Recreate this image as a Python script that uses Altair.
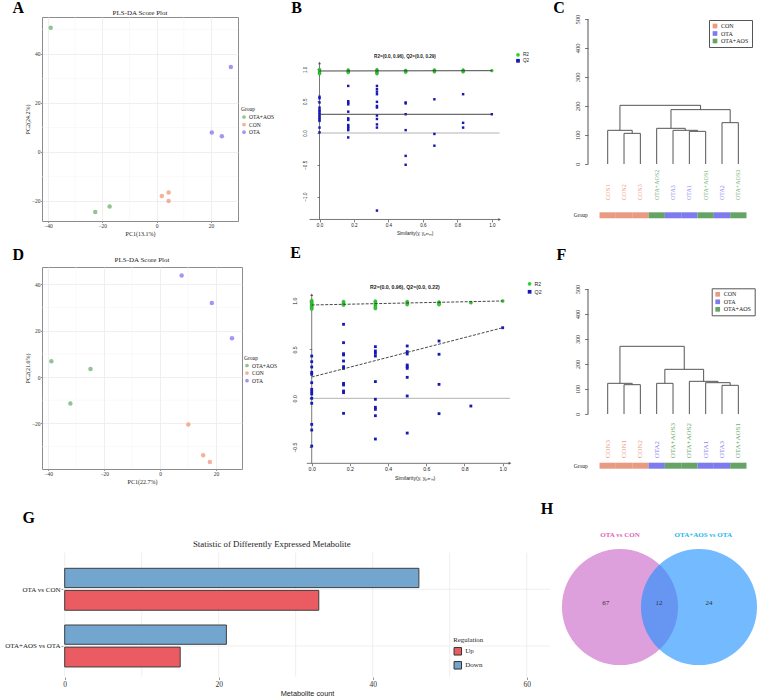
import altair as alt
import pandas as pd

SERIF = "Liberation Serif"
SANS = "Liberation Sans"

# ------------------------------------------------------------------ data
GROUPS = ["OTA+AOS", "CON", "OTA"]
SCORE_COLORS = ["#86BC86", "#F3A78F", "#988AF3"]

# A: PLS-DA score plot
a_group = ["OTA+AOS", "OTA+AOS", "OTA+AOS", "CON", "CON", "CON", "OTA", "OTA", "OTA"]
a_pc1 = [-39.0, -22.6, -17.3, 1.9, 4.4, 4.4, 20.3, 24.0, 27.3]
a_pc2 = [50.7, -24.5, -22.3, -18.0, -16.6, -20.0, 7.9, 6.4, 34.7]

# D: PLS-DA score plot
d_group = ["OTA+AOS", "OTA+AOS", "OTA+AOS", "CON", "CON", "CON", "OTA", "OTA", "OTA"]
d_pc1 = [-38.9, -24.9, -32.1, 10.1, 15.4, 17.8, 7.7, 18.5, 25.7]
d_pc2 = [6.8, 3.5, -11.4, -20.5, -33.8, -36.7, 43.8, 32.0, 16.7]

# B: permutation test (similarity in sixths)
b_q2_sim = [0] * 14 + [1] * 12 + [2] * 12 + [3] * 6 + [4] * 3 + [5] * 3 + [6]
b_q2 = [0.57, 0.545, 0.48, 0.40, 0.37, 0.345, 0.32, 0.295, 0.265, 0.24, 0.215, 0.19, 0.085, 0.01,
        0.74, 0.50, 0.475, 0.45, 0.335, 0.23, 0.205, 0.125, 0.10, 0.075, 0.045, -0.07,
        0.74, 0.69, 0.65, 0.61, 0.49, 0.425, 0.40, 0.275, 0.22, 0.135, 0.085, -1.22,
        0.48, 0.465, 0.295, 0.045, -0.36, -0.50,
        0.53, -0.015, -0.20,
        0.61, 0.16, 0.085,
        0.295]
b_r2_sim = [0] * 5 + [1] * 4 + [2] * 5 + [3] * 3 + [4] * 3 + [5] * 3 + [6]
b_r2 = [1.0, 0.98, 0.96, 0.94, 0.93,
        0.99, 0.975, 0.96, 0.95,
        0.995, 0.98, 0.96, 0.945, 0.93,
        0.985, 0.97, 0.955,
        0.99, 0.975, 0.96,
        0.99, 0.975, 0.96,
        0.98]
b_lines = {"R2": (0.975, 0.98), "Q2": (0.294, 0.294)}   # (intercept, value at 1.0)

# E: permutation test
e_q2_sim = [0] * 14 + [1] * 12 + [2] * 10 + [3] * 9 + [4] * 4 + [5] + [6]
e_q2 = [0.433, 0.375, 0.321, 0.266, 0.246, 0.160, 0.092, 0.068, 0.044, 0.0, -0.051, -0.267, -0.325, -0.489,
        0.758, 0.570, 0.457, 0.444, 0.382, 0.324, 0.307, 0.153, 0.136, 0.075, 0.058, -0.154,
        0.529, 0.485, 0.461, 0.433, 0.171, -0.010, -0.092, -0.113, -0.178, -0.417,
        0.536, 0.478, 0.454, 0.341, 0.324, 0.307, 0.215, 0.024, -0.356,
        0.587, 0.451, 0.143, -0.157,
        -0.079,
        0.723]
e_r2_sim = [0] * 7 + [1] * 3 + [2] * 5 + [3] * 3 + [4] * 3 + [5] + [6]
e_r2 = [1.0, 0.985, 0.97, 0.955, 0.94, 0.925, 0.915,
        0.99, 0.97, 0.955,
        0.995, 0.975, 0.955, 0.935, 0.92,
        0.99, 0.975, 0.96,
        0.985, 0.97, 0.96,
        0.98,
        0.997]
e_lines = {"R2": (0.956, 0.997), "Q2": (0.218, 0.723)}

# C / F: hierarchical clustering (leaf order, merges: child, child, height)
c_leaves = ["CON1", "CON2", "CON3", "OTA+AOS2", "OTA3", "OTA1", "OTA+AOS1", "OTA2", "OTA+AOS3"]
c_merges = [("CON2", "CON3", 105.7), ("CON1", 1, 116.1), ("OTA1", "OTA+AOS1", 112.6),
            ("OTA3", 3, 116.1), ("OTA+AOS2", 4, 123.0), ("OTA2", "OTA+AOS3", 142.5),
            (5, 6, 187.4), (2, 7, 202.3)]
f_leaves = ["CON3", "CON1", "CON2", "OTA2", "OTA+AOS3", "OTA+AOS2", "OTA1", "OTA3", "OTA+AOS1"]
f_merges = [("CON1", "CON2", 117.3), ("CON3", 1, 122.7), ("OTA2", "OTA+AOS3", 122.7),
            ("OTA3", "OTA+AOS1", 114.7), ("OTA1", 4, 125.3), ("OTA+AOS2", 5, 130.7),
            (3, 6, 178.7), (2, 7, 270.7)]
DENDRO_GROUPS = ["CON", "OTA", "OTA+AOS"]
DENDRO_BAR = ["#E99A83", "#7D7BEE", "#66A466"]
DENDRO_TEXT = {"CON": "#F09A84", "OTA": "#8A86F0", "OTA+AOS": "#6DAA6D"}

# G: differential metabolites
comparisons = ["OTA vs CON", "OTA+AOS vs OTA"]
up_counts = [33, 15]
down_counts = [46, 21]
REG_DOMAIN = ["Up", "Down"]
REG_COLORS = ["#EA5C61", "#72A6CF"]
g_ticks = [0, 20, 40, 60]
g_grid = [0, 10, 20, 30, 40, 50, 60]

# H: Venn
venn_sets = ["OTA vs CON", "OTA+AOS vs OTA"]
venn_counts = [67, 12, 24]   # only left, shared, only right


# ------------------------------------------------------------------ helpers
def letter(ch, dx, dy):
    return alt.Chart(pd.DataFrame({"t": [ch]})).mark_text(
        font=SERIF, fontSize=16, fontWeight="bold", color="#000",
        align="center", baseline="middle").encode(
        x=alt.value(dx), y=alt.value(dy), text="t:N")


def note(txt, dx, dy, **kw):
    return alt.Chart(pd.DataFrame({"t": [txt]})).mark_text(
        align="center", baseline="middle", **kw).encode(
        x=alt.value(dx), y=alt.value(dy), text="t:N")


def score_panel(pc1, pc2, grp, L):
    df = pd.DataFrame({"PC1": pc1, "PC2": pc2, "Group": grp})
    xs = alt.Scale(domain=L["xdom"], nice=False, zero=False)
    ys = alt.Scale(domain=L["ydom"], nice=False, zero=False)
    common = dict(grid=True, gridColor="#EBEBEB", gridWidth=0.8, domain=False,
                  tickSize=1.5, tickColor="#444", tickWidth=0.6,
                  labelFont=SERIF, labelFontSize=5.5, labelColor="#333", labelFlush=False,
                  titleFont=SERIF, titleFontSize=6, titleFontWeight="normal", titleColor="#222")
    xaxis = alt.Axis(values=L["xmaj"], labelPadding=1, title=L["xtitle"], titlePadding=1, **common)
    yaxis = alt.Axis(values=L["ymaj"], labelPadding=0.5, title=L["ytitle"], titlePadding=1, **common)
    minx = alt.Chart(pd.DataFrame({"v": L["xmin"]})).mark_rule(
        color="#F2F2F2", strokeWidth=0.5).encode(x=alt.X("v:Q", scale=xs, axis=xaxis))
    miny = alt.Chart(pd.DataFrame({"v": L["ymin"]})).mark_rule(
        color="#F2F2F2", strokeWidth=0.5).encode(y=alt.Y("v:Q", scale=ys, axis=yaxis))
    pts = alt.Chart(df).mark_circle(size=20, opacity=0.9).encode(
        x=alt.X("PC1:Q", scale=xs, axis=xaxis),
        y=alt.Y("PC2:Q", scale=ys, axis=yaxis),
        color=alt.Color("Group:N", scale=alt.Scale(domain=GROUPS, range=SCORE_COLORS),
                        legend=alt.Legend(orient="none", legendX=L["legx"], legendY=L["legy"],
                                          title="Group", titleFont=SERIF, titleFontSize=5.5,
                                          titleFontWeight="normal", titleColor="#222",
                                          titlePadding=1.5, labelFont=SERIF, labelFontSize=5.5,
                                          labelColor="#222", labelOffset=2, symbolSize=14,
                                          symbolType="circle", rowPadding=0.6, padding=0)))
    ttl = note("PLS-DA Score Plot", L["w"] / 2, L["ty"], font=SERIF, fontSize=7, color="#222")
    return alt.layer(minx, miny, pts, ttl, letter(L["letter"], *L["lpos"])).properties(
        width=L["w"], height=L["h"],
        view=alt.ViewBackground(stroke="#8C8C8C", strokeWidth=1))


def perm_panel(q2s, q2v, r2s, r2v, lines, dashed, title_text, L):
    xs = alt.Scale(domain=L["xdom"], nice=False, zero=False)
    ys = alt.Scale(domain=L["ydom"], nice=False, zero=False)
    xaxis = alt.Axis(values=[0, 0.2, 0.4, 0.6, 0.8, 1.0], format=".1f", domain=False, grid=False,
                     tickSize=2.5, tickColor="#333", tickWidth=0.6, labelFont=SANS,
                     labelFontSize=L["fs"], labelColor="#222", labelPadding=L["xlp"], labelFlush=False,
                     title="Similarity(y, yₚₑᵣₘ)", titleFont=SANS, titleFontSize=L["fs"],
                     titleFontWeight="normal", titleColor="#222", titlePadding=L["xtp"],
                     offset=L["xoff"])
    yaxis = alt.Axis(values=L["yvals"], format=".1f", domain=False, grid=False,
                     tickSize=2.5, tickColor="#333", tickWidth=0.6, labelFont=SANS,
                     labelFontSize=L["fs"], labelColor="#222", labelAngle=270, labelAlign="center",
                     labelBaseline="middle", labelPadding=L["ylp"], labelFlush=False, title=None,
                     offset=L["yoff"])

    def X(f):
        return alt.X(f, scale=xs, axis=xaxis)

    def Y(f):
        return alt.Y(f, scale=ys, axis=yaxis)

    axdf = pd.DataFrame({"x": [0, L["x0"], 0], "x2": [0, L["x1"], L["x1"]],
                         "y": [L["ybot"], L["ybot"], 0], "y2": [L["ytop"], L["ybot"], 0],
                         "c": ["#555555", "#555555", "#A0A0A0"]})
    axlines = alt.Chart(axdf).mark_rule(strokeWidth=0.8).encode(
        x=X("x:Q"), x2="x2:Q", y=Y("y:Q"), y2="y2:Q", stroke=alt.Stroke("c:N", scale=None))
    up_arrow = alt.Chart(pd.DataFrame({"x": [0], "y": [L["ytop"]]})).mark_point(
        filled=True, color="#555", size=9, opacity=1, shape="triangle-up").encode(
        x=X("x:Q"), y=Y("y:Q"))
    right_arrow = alt.Chart(pd.DataFrame({"x": [L["x1"]], "y": [L["ybot"]]})).mark_point(
        filled=True, color="#555", size=9, opacity=1, shape="triangle-right").encode(
        x=X("x:Q"), y=Y("y:Q"))

    leg = alt.Legend(orient="none", legendX=L["legx"], legendY=L["legy"], title=None,
                     labelFont=SANS, labelFontSize=L["fs"], labelColor="#222", labelOffset=2,
                     symbolSize=14, rowPadding=1, padding=0)
    cscale = alt.Scale(domain=["R2", "Q2"], range=["#2FD12F", "#1818B4"])
    sscale = alt.Scale(domain=["R2", "Q2"], range=["circle", "square"])
    qdf = pd.DataFrame({"sim": [s / 6 for s in q2s], "val": q2v, "series": "Q2"})
    rdf = pd.DataFrame({"sim": [s / 6 for s in r2s], "val": r2v, "series": "R2"})
    q2 = alt.Chart(qdf).mark_point(filled=True, size=L["qsize"], opacity=1).encode(
        x=X("sim:Q"), y=Y("val:Q"),
        color=alt.Color("series:N", scale=cscale, legend=leg),
        shape=alt.Shape("series:N", scale=sscale, legend=leg))
    r2 = alt.Chart(rdf).mark_point(filled=True, size=L["rsize"], opacity=1, stroke="#1E8F1E",
                                    strokeWidth=0.4).encode(
        x=X("sim:Q"), y=Y("val:Q"),
        color=alt.Color("series:N", scale=cscale, legend=leg),
        shape=alt.Shape("series:N", scale=sscale, legend=leg))
    ldf = pd.DataFrame({"x": [0, 0], "x2": [1, 1],
                        "y": [lines["R2"][0], lines["Q2"][0]],
                        "y2": [lines["R2"][1], lines["Q2"][1]]})
    lmark = dict(color="#333", strokeWidth=0.9)
    if dashed:
        lmark["strokeDash"] = [3, 1.5]
    reg = alt.Chart(ldf).mark_rule(**lmark).encode(x=X("x:Q"), x2="x2:Q", y=Y("y:Q"), y2="y2:Q")
    ttl = alt.Chart(pd.DataFrame({"t": [title_text], "x": [L["tx"]], "y": [L["ty"]]})).mark_text(
        font=SANS, fontSize=L["tfs"], fontWeight="bold", color="#222").encode(
        x=X("x:Q"), y=Y("y:Q"), text="t:N")
    return alt.layer(axlines, up_arrow, right_arrow, q2, r2, reg, ttl,
                     letter(L["letter"], *L["lpos"])).properties(width=L["w"], height=L["h"])


def dendro_panel(leaves, merges, L):
    pos = {n: i + 1 for i, n in enumerate(leaves)}
    nx, nh, segs = [], [], []

    def get(ref):
        if isinstance(ref, str):
            return pos[ref], 0.0
        return nx[ref - 1], nh[ref - 1]

    for a, b, h in merges:
        xa, ha = get(a)
        xb, hb = get(b)
        segs += [(xa, xa, ha, h), (xb, xb, hb, h), (xa, xb, h, h)]
        nx.append((xa + xb) / 2)
        nh.append(h)
    # y axis line (0..500) at the left edge of the panel
    segs.append((L["xdom"][0], L["xdom"][0], 0, 500))
    sdf = pd.DataFrame(segs, columns=["x", "x2", "y", "y2"])
    groups = [n.rstrip("0123456789") for n in leaves]
    ldf = pd.DataFrame({"leaf": leaves, "p": [pos[n] for n in leaves], "grp": groups,
                        "tc": [DENDRO_TEXT[g] for g in groups]})
    ldf["p0"] = ldf["p"] - 0.5
    ldf["p1"] = ldf["p"] + 0.5
    ldf["ly"] = L["laby"]
    ldf["b0"] = L["bar"][0]
    ldf["b1"] = L["bar"][1]
    xs = alt.Scale(domain=L["xdom"], nice=False, zero=False)
    ys = alt.Scale(domain=L["ydom"], nice=False, zero=False)
    yaxis = alt.Axis(values=[0, 100, 200, 300, 400, 500], domain=False, grid=False,
                     tickSize=3.5, tickColor="#444", tickWidth=0.7, labelFont=SERIF,
                     labelFontSize=L["afs"], labelColor="#333", labelAngle=270, labelAlign="center",
                     labelBaseline="middle", labelPadding=L["ylp"], labelFlush=False, title=None)

    def X(f):
        return alt.X(f, scale=xs, axis=None)

    def Y(f):
        return alt.Y(f, scale=ys, axis=yaxis)

    tree = alt.Chart(sdf).mark_rule(color="#555", strokeWidth=1).encode(
        x=X("x:Q"), x2="x2:Q", y=Y("y:Q"), y2="y2:Q")
    labels = alt.Chart(ldf).mark_text(font=SERIF, fontSize=L["lfs"], angle=270, align="left",
                                      baseline="middle").encode(
        x=X("p:Q"), y=Y("ly:Q"), text="leaf:N", fill=alt.Fill("tc:N", scale=None))
    bars = alt.Chart(ldf).mark_rect().encode(
        x=X("p0:Q"), x2="p1:Q", y=Y("b0:Q"), y2="b1:Q",
        color=alt.Color("grp:N", scale=alt.Scale(domain=DENDRO_GROUPS, range=DENDRO_BAR),
                        legend=alt.Legend(orient="none", legendX=L["legx"], legendY=L["legy"],
                                          title=None, labelFont=SERIF, labelFontSize=6,
                                          labelColor="#222", labelOffset=3, symbolType="square",
                                          symbolSize=22, symbolStrokeWidth=0, rowPadding=1.5,
                                          padding=3, strokeColor="#555")))
    grp_txt = alt.Chart(pd.DataFrame({"t": ["Group"], "x": [L["gx"]], "y": [L["gy"]]})).mark_text(
        font=SERIF, fontSize=5.5, color="#222").encode(x=X("x:Q"), y=Y("y:Q"), text="t:N")
    return alt.layer(tree, labels, bars, grp_txt,
                     letter(L["letter"], *L["lpos"])).properties(width=L["w"], height=L["h"])


def bar_panel(col_w):
    rows = []
    for i, comp in enumerate(comparisons):
        rows.append(dict(comp=comp, Regulation="Down", zero=0, count=down_counts[i],
                         y0=i - 0.37, y1=i - 0.03))
        rows.append(dict(comp=comp, Regulation="Up", zero=0, count=up_counts[i],
                         y0=i + 0.02, y1=i + 0.37))
    df = pd.DataFrame(rows)
    # the plot spans 508 px although the grid cell is narrower
    xs = alt.Scale(domain=[-2.948, 63.03], nice=False, zero=False, range=[0, 508])
    ys = alt.Scale(domain=[-1.310, 1.547], nice=False, zero=False, reverse=True)
    lab_expr = " : ".join([f"datum.value == {i} ? '{c}'" for i, c in enumerate(comparisons)]) + " : ''"
    xaxis = alt.Axis(values=g_ticks, domain=False, grid=False, tickSize=2.5, tickColor="#555",
                     tickWidth=0.6, labelFont=SERIF, labelFontSize=7.5, labelColor="#333",
                     labelPadding=1, labelFlush=False, title="Metabolite count", titleFont=SANS,
                     titleFontSize=7.3, titleFontWeight="normal", titleColor="#222",
                     titlePadding=1.5, titleX=265, titleAlign="center")
    yaxis = alt.Axis(values=list(range(len(comparisons))), labelExpr=lab_expr, domain=False,
                     grid=False, tickSize=2, tickColor="#555", tickWidth=0.6, labelFont=SERIF,
                     labelFontSize=7, labelColor="#222", labelPadding=1, title=None, offset=-21)

    def X(f):
        return alt.X(f, scale=xs, axis=xaxis)

    def Y(f):
        return alt.Y(f, scale=ys, axis=yaxis)

    gdf = pd.DataFrame({"x": g_grid + [-0.22] * len(comparisons),
                        "x2": g_grid + [63.03] * len(comparisons),
                        "y": [-0.646] * len(g_grid) + list(range(len(comparisons))),
                        "y2": [1.542] * len(g_grid) + list(range(len(comparisons)))})
    grid = alt.Chart(gdf).mark_rule(color="#EBEBEB", strokeWidth=0.8).encode(
        x=X("x:Q"), x2="x2:Q", y=Y("y:Q"), y2="y2:Q")
    bars = alt.Chart(df).mark_rect(stroke="#3F3F3F", strokeWidth=1).encode(
        x=X("zero:Q"), x2="count:Q", y=Y("y0:Q"), y2="y1:Q",
        color=alt.Color("Regulation:N", scale=alt.Scale(domain=REG_DOMAIN, range=REG_COLORS),
                        legend=alt.Legend(orient="none", legendX=411.3, legendY=121.5,
                                          title="Regulation", titleFont=SERIF, titleFontSize=6.8,
                                          titleFontWeight="normal", titleColor="#222",
                                          titlePadding=3.5, labelFont=SERIF, labelFontSize=7,
                                          labelColor="#222", labelOffset=3, symbolType="square",
                                          symbolSize=56, symbolStrokeColor="#333",
                                          symbolStrokeWidth=1, rowPadding=1, padding=0)))
    ttl = note("Statistic of Differently Expressed Metabolite", 229.8, 28.6,
               font=SERIF, fontSize=8.8, color="#222")
    return alt.layer(grid, bars, ttl, letter("G", -13.4, 3)).properties(width=col_w, height=162)


def venn_panel(x0):
    # the panel's cell starts at x0 (page); circles are drawn at page x 554..765
    xs = alt.Scale(domain=[-0.886, 1.861], nice=False, zero=False, range=[550 - x0, 767 - x0])
    ys = alt.Scale(domain=[-0.886, 1.165], nice=False, zero=False)

    def X(f):
        return alt.X(f, scale=xs, axis=None)

    def Y(f):
        return alt.Y(f, scale=ys, axis=None)

    cdf = pd.DataFrame({"p": [0, 1], "yc": [0, 0], "set": venn_sets,
                        "fill": ["#DDA0DD", "#1E90FF"], "op": [1.0, 0.62]})
    circles = alt.Chart(cdf).mark_circle(size=13478).encode(
        x=X("p:Q"), y=Y("yc:Q"),
        color=alt.Color("fill:N", scale=None), opacity=alt.Opacity("op:Q", scale=None))
    tdf = pd.DataFrame({"p": [-0.181, 0.494, 1.127], "yc": [0.047] * 3,
                        "n": [str(v) for v in venn_counts]})
    counts = alt.Chart(tdf).mark_text(font=SERIF, fontSize=7, color="#333").encode(
        x=X("p:Q"), y=Y("yc:Q"), text="n:N")
    sdf = pd.DataFrame({"p": [0.0, 1.054], "yc": [0.908, 0.908], "set": venn_sets,
                        "c": ["#E35FB8", "#25B3F0"]})
    names = alt.Chart(sdf).mark_text(font=SERIF, fontSize=7, fontWeight="bold").encode(
        x=X("p:Q"), y=Y("yc:Q"), text="set:N", color=alt.Color("c:N", scale=None))
    return alt.layer(circles, counts, names, letter("H", 550 - x0 - 3, -6)).properties(
        width=100, height=162)


# ------------------------------------------------------------------ panels
# grid columns: col0 starts at page x 42 (width 200), col1 at 242 (width 345.3), col2 at 587.3
A = score_panel(a_pc1, a_pc2, a_group, dict(
    xdom=[-42.2, 29.94], ydom=[-28.2, 55.1], xmaj=[-40, -20, 0, 20], xmin=[-30, -10, 10],
    ymaj=[-20, 0, 20, 40], ymin=[-10, 10, 30, 50], xtitle="PC1(13.1%)", ytitle="PC2(24.2%)",
    legx=199, legy=90, w=196, h=204, ty=-3.7, letter="A", lpos=(-23.7, -8.7)))

D = score_panel(d_pc1, d_pc2, d_group, dict(
    xdom=[-42.25, 29.29], ydom=[-39.7, 47.5], xmaj=[-40, -20, 0, 20], xmin=[-30, -10, 10],
    ymaj=[-40, -20, 0, 20, 40], ymin=[-30, -10, 10, 30], xtitle="PC1(22.7%)", ytitle="PC2(21.6%)",
    legx=202, legy=88.5, w=200, h=202, ty=-7, letter="D", lpos=(-23.7, -12)))

B = perm_panel(b_q2_sim, b_q2, b_r2_sim, b_r2, b_lines, False, "R2=(0.0, 0.96), Q2=(0.0, 0.29)", dict(
    xdom=[-0.4498, 1.554], ydom=[-1.384, 1.824], ybot=-1.36, ytop=1.10, x0=-0.058, x1=1.045,
    xoff=-1.5, yoff=-77.5, yvals=[-1.0, -0.5, 0.0, 0.5, 1.0], xlp=0.5, xtp=3, ylp=11.3,
    fs=4.6, tfs=4.6, tx=0.496, ty=1.2, legx=273, legy=34.8, qsize=6, rsize=8,
    w=345.3, h=204, letter="B", lpos=(54.7, -8.7)))

E = perm_panel(e_q2_sim, e_q2, e_r2_sim, e_r2, e_lines, True, "R2=(0.0, 0.96), Q2=(0.0, 0.22)", dict(
    xdom=[-0.365, 1.443], ydom=[-0.724, 1.345], ybot=-0.666, ytop=1.06, x0=-0.026, x1=1.038,
    xoff=-5.7, yoff=-69.7, yvals=[-0.5, 0.0, 0.5, 1.0], xlp=1, xtp=3, ylp=14.9,
    fs=5.2, tfs=5.2, tx=0.488, ty=1.143, legx=284.6, legy=13.8, qsize=8, rsize=10,
    w=345.3, h=202, letter="E", lpos=(53.7, -13.7)))

C = dendro_panel(c_leaves, c_merges, dict(
    xdom=[-0.206, 10.204], ydom=[-196.6, 506.9], laby=-124.1, bar=(-166.6, -187.2),
    gx=-0.653, gy=-176.9, legx=121, legy=3, afs=6.5, lfs=6, ylp=7,
    w=170, h=204, letter="C", lpos=(-29, -8.7)))

F = dendro_panel(f_leaves, f_merges, dict(
    xdom=[-0.206, 10.204], ydom=[-220, 588], laby=-177.2, bar=(-194.8, -218.8),
    gx=-0.653, gy=-206.8, legx=123.7, legy=21.3, afs=6, lfs=7, ylp=7,
    w=170, h=202, letter="F", lpos=(-26.6, -12)))

G = bar_panel(200)
H = venn_panel(242)

chart = alt.ConcatChart(
    concat=[A, B, C, D, E, F, G, H], columns=3,
    spacing={"row": 46, "column": 0}, align="none", bounds="flush",
).resolve_scale(color="independent", shape="independent").properties(
    autosize=alt.AutoSizeParams(type="none"),
    padding={"left": 42, "top": 17, "right": 725, "bottom": 681},
    background="white",
).configure_view(stroke=None)

chart.save("out.html", embed_options={"renderer": "svg", "actions": False})
